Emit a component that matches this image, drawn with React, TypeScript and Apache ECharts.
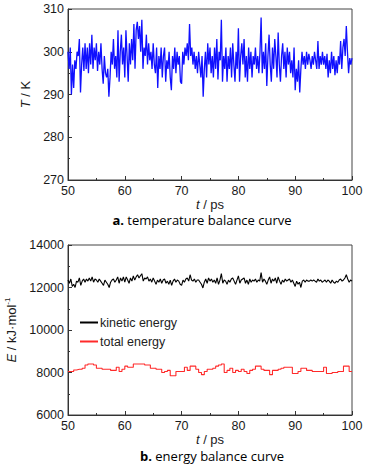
import React, { useEffect, useRef } from "react";
import * as echarts from "echarts";

// Temperature (K), sampled every 0.2 ps from 50 to 100 ps
const temperature: number[] = [
  300, 296, 301, 290, 297,
  291.5, 298, 296, 300, 299,
  303, 290.5, 297, 301, 295.5,
  302, 296, 301, 295, 302,
  297, 304, 296, 301, 298,
  302, 295.5, 300, 297, 302,
  296, 292.5, 299, 295, 294,
  296, 289.5, 294, 300, 297,
  303, 296, 299, 294, 305,
  293, 300, 304, 297, 301,
  294, 305, 299, 293, 302,
  297, 303, 298, 306.5, 296,
  305, 307, 303, 306, 300,
  307.5, 296, 301, 299, 304,
  297, 302, 298, 300, 296,
  302, 297, 295, 301, 291.5,
  299, 296, 301, 294, 299,
  301, 293, 298, 296, 300,
  294, 291, 299, 296, 301,
  295, 300, 297, 299, 293,
  292.5, 300, 297, 301, 299,
  302, 298, 306.5, 299, 301,
  297, 300, 296, 299, 295,
  300, 297, 294, 299, 289.5,
  296, 300, 294, 302, 297,
  301, 295, 299, 294, 301,
  296, 303, 293.5, 300, 298,
  307.5, 293, 299, 296, 301,
  293, 299, 296, 301, 294,
  302, 297, 293, 300, 296,
  305.5, 293, 299, 302, 297,
  303, 294, 299, 293, 301,
  296, 300, 294, 299, 297,
  301, 296, 299, 295, 300,
  308, 295, 300, 296, 302,
  292, 299, 304, 297, 293,
  301, 296, 303, 299, 294,
  304.5, 297, 293, 299, 302,
  296, 300, 294, 301, 297,
  300, 295, 298, 294, 301,
  291, 296, 293, 298, 290.5,
  296, 300, 297, 299, 296,
  300, 297, 299.5, 298, 296,
  299, 297, 300, 298, 296,
  302.5, 296, 299, 297, 300,
  297, 299, 296, 299.5, 294,
  298, 295, 300, 296, 299,
  294.5, 298, 295, 299, 297,
  302.5, 296, 301, 303, 299,
  306, 300, 295, 298.5, 297,
  298.5,
];
const tempStart = 50;
const tempStep = 0.2;

// Kinetic energy (kJ/mol), sampled every 0.25 ps
const kinetic: number[] = [
  12350, 12200, 12400, 12050,
  12150, 12000, 12300, 12250,
  12450, 12100, 12300, 12400,
  12250, 12400, 12300, 12450,
  12300, 12500, 12250, 12400,
  12350, 12250, 12400, 12300,
  12200, 12100, 12350, 12250,
  12150, 12000, 12250, 12350,
  12400, 12250, 12350, 12500,
  12200, 12450, 12300, 12500,
  12250, 12500, 12350, 12200,
  12450, 12300, 12550, 12350,
  12500, 12600, 12450, 12550,
  12650, 12300, 12450, 12400,
  12500, 12300, 12400, 12250,
  12450, 12300, 12150, 12350,
  12250, 12400, 12200, 12350,
  12400, 12200, 12300, 12150,
  12350, 12100, 12300, 12400,
  12250, 12350, 12300, 12150,
  12100, 12350, 12250, 12400,
  12450, 12300, 12600, 12350,
  12300, 12400, 12250, 12350,
  12350, 12250, 12150, 11980,
  12250, 12400, 12200, 12450,
  12300, 12400, 12250, 12350,
  12200, 12450, 12150, 12350,
  12650, 12200, 12350, 12300,
  12150, 12350, 12250, 12400,
  12450, 12300, 12150, 12350,
  12550, 12200, 12350, 12400,
  12450, 12200, 12350, 12150,
  12400, 12250, 12350, 12300,
  12400, 12250, 12350, 12300,
  12700, 12250, 12400, 12300,
  12150, 12350, 12500, 12200,
  12400, 12300, 12450, 12200,
  12500, 12300, 12150, 12350,
  12250, 12400, 12300, 12350,
  12400, 12250, 12350, 12200,
  12050, 12300, 12150, 12250,
  12000, 12300, 12350, 12250,
  12350, 12300, 12300, 12350,
  12300, 12350, 12300, 12250,
  12400, 12300, 12350, 12250,
  12300, 12350, 12250, 12350,
  12300, 12200, 12350, 12250,
  12200, 12300, 12250, 12350,
  12400, 12300, 12350, 12450,
  12600, 12400, 12250, 12350,
  12300,
];
const kinStart = 50;
const kinStep = 0.25;

// Total energy (kJ/mol), step values every 0.5 ps
const total: number[] = [
  8050, 8050, 8120, 8150, 8150, 8200, 8350, 8400, 8400, 8350,
  8200, 8200, 8150, 8150, 8150, 8100, 8100, 8250, 8050, 8150,
  8300, 8250, 8250, 8400, 8400, 8400, 8400, 8350, 8350, 8200,
  8200, 8150, 8150, 8000, 8050, 8100, 7850, 7850, 8050, 8050,
  8050, 8250, 8100, 8300, 8300, 8150, 8000, 7900, 8050, 8150,
  8150, 8200, 8300, 8350, 8400, 8000, 8100, 8200, 8000, 8100,
  8050, 8150, 8050, 7950, 8100, 8150, 8300, 8300, 8150, 8100,
  8100, 7900, 8100, 8100, 8150, 8200, 8250, 8250, 8250, 7950,
  7950, 8050, 8200, 8200, 8100, 8100, 8050, 8050, 8050, 8050,
  8250, 7950, 7950, 8000, 8000, 8050, 8050, 8300, 8300, 8050,
  8050,
];
const totStart = 50;
const totStep = 0.5;

const xTicks = [50, 60, 70, 80, 90, 100];
const tempTicks = [270, 280, 290, 300, 310];
const energyTicks = [6000, 8000, 10000, 12000, 14000];

const seriesNames = ["kinetic energy", "total energy"];
const captionA = { tag: "a.", text: " temperature balance curve" };
const captionB = { tag: "b.", text: " energy balance curve" };

const toPairs = (vals: number[], start: number, step: number) =>
  vals.map((v, i) => [+(start + i * step).toFixed(3), v]);

const AXIS_FONT = "Liberation Sans";
const CAP_FONT = "Open Sans";

export default function App() {
  const ref = useRef<HTMLDivElement>(null);
  useEffect(() => {
    document.body.style.margin = "0";
    if (!ref.current) return;
    const chart = echarts.init(ref.current, undefined, { renderer: "svg" });

    const axisLabel = {
      color: "#1a1a1a",
      fontSize: 12.5,
      fontFamily: AXIS_FONT,
      margin: 4,
      formatter: (v: number) => String(v),
    };
    const axisLine = { show: true, lineStyle: { color: "#333", width: 1 } };
    const axisTick = { show: true, inside: true, length: 4, lineStyle: { color: "#333" } };
    const minorTick = { show: true, splitNumber: 2, length: 2, lineStyle: { color: "#333" } };
    const nameStyle = (extra: any = {}) => ({
      color: "#1a1a1a",
      fontSize: 13,
      fontFamily: AXIS_FONT,
      rich: {
        i: { fontStyle: "italic", fontSize: 13, fontFamily: AXIS_FONT, color: "#1a1a1a" },
        ...extra,
      },
    });

    const xAxisBase = (gridIndex: number) => ({
      type: "value" as const,
      gridIndex,
      min: xTicks[0],
      max: xTicks[xTicks.length - 1],
      interval: 10,
      axisLine,
      axisTick,
      minorTick,
      splitLine: { show: false },
      axisLabel,
      name: "{i|t} / ps",
      nameLocation: "middle" as const,
      nameGap: 16,
      nameTextStyle: nameStyle(),
    });

    chart.setOption({
      animation: false,
      backgroundColor: "#fff",
      grid: [
        { left: 68, right: 34, top: 9, height: 171, show: true, borderColor: "#444", borderWidth: 1, backgroundColor: "transparent", containLabel: false, outerBoundsMode: "none" },
        { left: 68, right: 34, top: 245, height: 170, show: true, borderColor: "#444", borderWidth: 1, backgroundColor: "transparent", containLabel: false, outerBoundsMode: "none" },
      ],
      legend: {
        data: seriesNames,
        orient: "vertical",
        left: 75,
        top: 311,
        itemWidth: 18,
        itemHeight: 2,
        itemGap: 6,
        icon: "rect",
        textStyle: { color: "#222", fontSize: 12.5, fontFamily: AXIS_FONT, padding: [0, 0, 0, -3] },
      },
      xAxis: [xAxisBase(0), xAxisBase(1)],
      yAxis: [
        {
          type: "value",
          gridIndex: 0,
          min: tempTicks[0],
          max: tempTicks[tempTicks.length - 1],
          interval: 10,
          axisLine,
          axisTick,
          minorTick,
          splitLine: { show: false },
          axisLabel,
          name: "{i|T} / K",
          nameLocation: "middle",
          nameRotate: 90,
          nameGap: 36,
          nameTextStyle: nameStyle(),
        },
        {
          type: "value",
          gridIndex: 1,
          min: energyTicks[0],
          max: energyTicks[energyTicks.length - 1],
          interval: 2000,
          axisLine,
          axisTick,
          minorTick,
          splitLine: { show: false },
          axisLabel,
          name: "{i|E} / kJ·mol{s|-1}",
          nameLocation: "middle",
          nameRotate: 90,
          nameGap: 36,
          nameTextStyle: nameStyle({
            s: { fontSize: 8, fontFamily: AXIS_FONT, color: "#1a1a1a", padding: [0, 0, 8, 0] },
          }),
        },
      ],
      series: [
        {
          name: "temperature",
          type: "line",
          xAxisIndex: 0,
          yAxisIndex: 0,
          data: toPairs(temperature, tempStart, tempStep),
          showSymbol: false,
          symbol: "none",
          lineStyle: { color: "#1010ff", width: 1.3 },
          itemStyle: { color: "#1010ff" },
        },
        {
          name: seriesNames[0],
          type: "line",
          xAxisIndex: 1,
          yAxisIndex: 1,
          data: toPairs(kinetic, kinStart, kinStep),
          showSymbol: false,
          symbol: "none",
          lineStyle: { color: "#000", width: 1.1 },
          itemStyle: { color: "#000" },
        },
        {
          name: seriesNames[1],
          type: "line",
          xAxisIndex: 1,
          yAxisIndex: 1,
          step: "end",
          data: toPairs(total, totStart, totStep),
          showSymbol: false,
          symbol: "none",
          lineStyle: { color: "#ff2a2a", width: 1.1 },
          itemStyle: { color: "#ff2a2a" },
        },
      ],
      graphic: [
        {
          type: "text",
          x: 202,
          y: 220,
          style: {
            text: `{b|${captionA.tag}}{n|${captionA.text}}`,
            align: "center",
            verticalAlign: "middle",
            rich: {
              b: { fontWeight: "bold", fontSize: 13, fontFamily: CAP_FONT, fill: "#000" },
              n: { fontSize: 13, fontFamily: CAP_FONT, fill: "#000" },
            },
          },
        },
        {
          type: "text",
          x: 212,
          y: 456,
          style: {
            text: `{b|${captionB.tag}}{n|${captionB.text}}`,
            align: "center",
            verticalAlign: "middle",
            rich: {
              b: { fontWeight: "bold", fontSize: 13, fontFamily: CAP_FONT, fill: "#000" },
              n: { fontSize: 13, fontFamily: CAP_FONT, fill: "#000" },
            },
          },
        },
      ],
    });
    return () => chart.dispose();
  }, []);
  return <div ref={ref} style={{ width: 386, height: 466 }} />;
}
